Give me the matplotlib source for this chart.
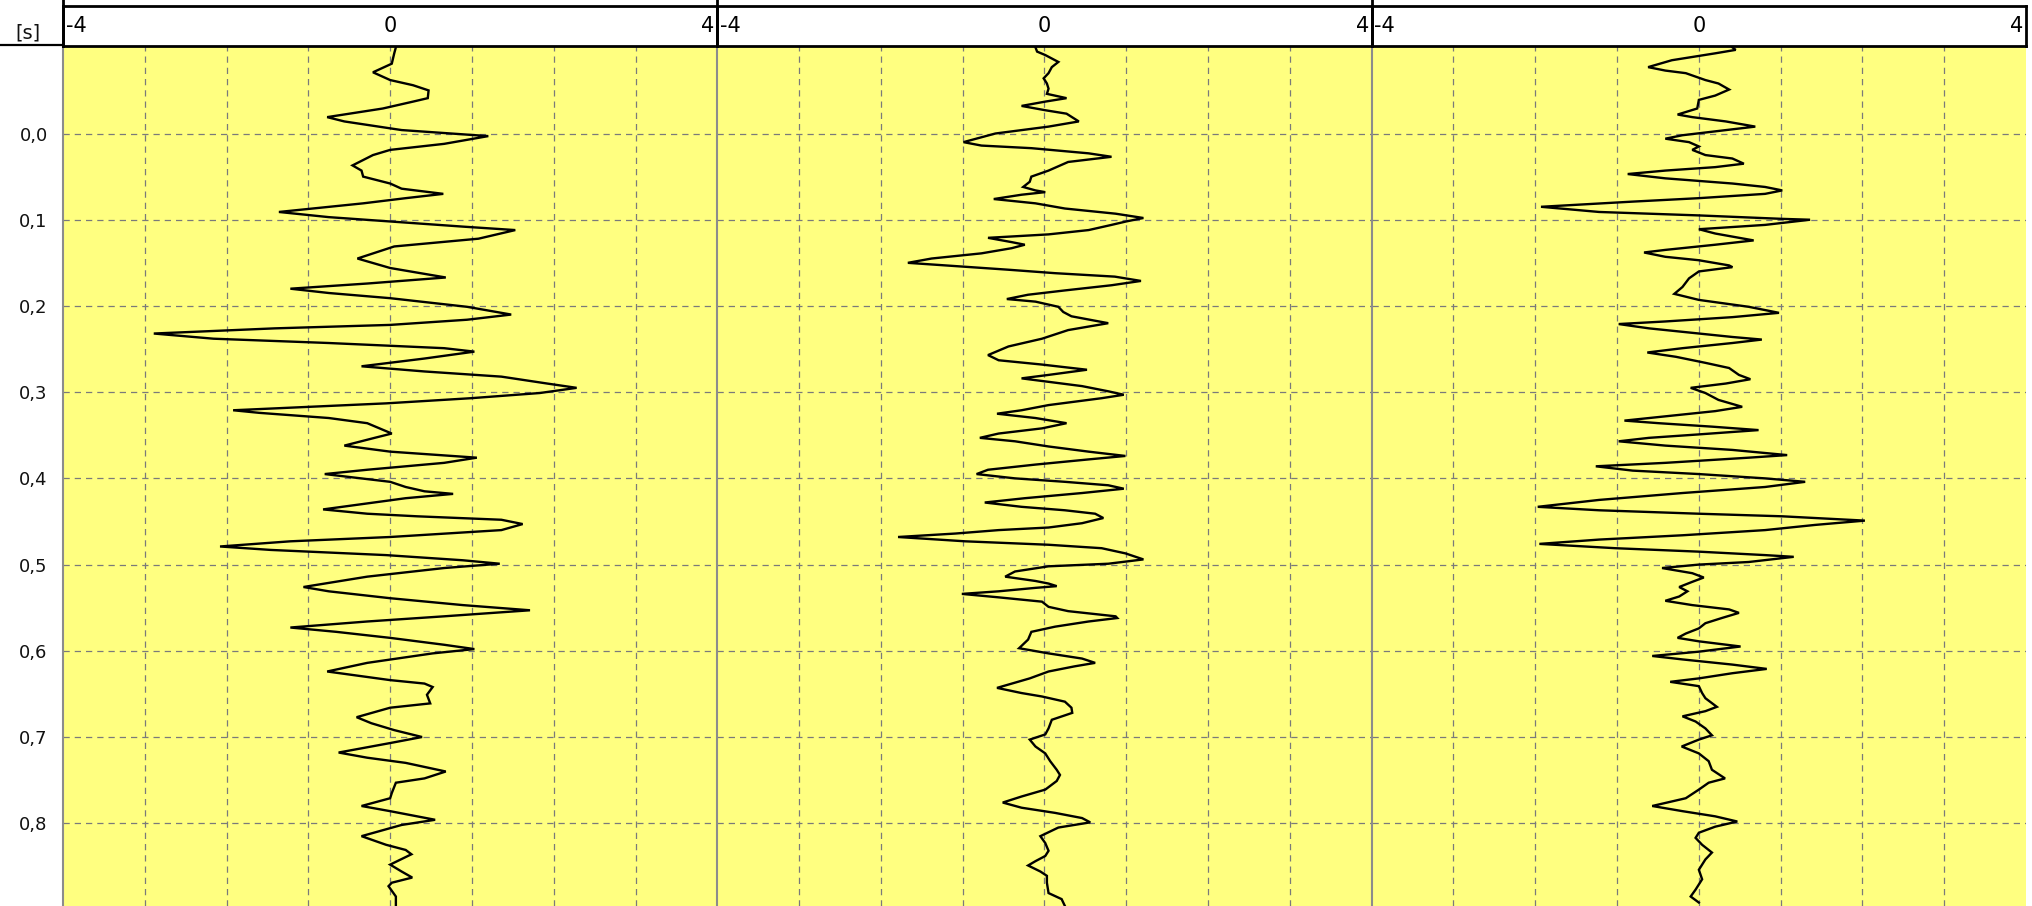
import matplotlib
matplotlib.use("Agg")
import matplotlib.pyplot as plt
from matplotlib.lines import Line2D

# ---------------------------------------------------------------- data
# time [s] and amplitude samples of the three traces
t1 = [-0.100, -0.093, -0.081, -0.071, -0.062, -0.056, -0.050, -0.041, -0.037, -0.029,
      -0.019, -0.014, -0.004, 0.003, 0.012, 0.019, 0.025, 0.037, 0.043, 0.050,
      0.058, 0.064, 0.070, 0.075, 0.081, 0.091, 0.097, 0.102, 0.108, 0.112,
      0.122, 0.131, 0.145, 0.156, 0.167, 0.174, 0.180, 0.185, 0.191, 0.201,
      0.210, 0.216, 0.222, 0.226, 0.232, 0.238, 0.243, 0.249, 0.253, 0.261,
      0.270, 0.276, 0.282, 0.290, 0.295, 0.301, 0.307, 0.313, 0.321, 0.324,
      0.330, 0.336, 0.348, 0.353, 0.362, 0.369, 0.376, 0.382, 0.390, 0.395,
      0.404, 0.410, 0.415, 0.418, 0.423, 0.429, 0.436, 0.441, 0.444, 0.448,
      0.453, 0.460, 0.468, 0.473, 0.479, 0.483, 0.489, 0.495, 0.499, 0.504,
      0.514, 0.526, 0.531, 0.539, 0.547, 0.553, 0.560, 0.566, 0.573, 0.578,
      0.585, 0.593, 0.598, 0.603, 0.614, 0.624, 0.634, 0.638, 0.642, 0.651,
      0.661, 0.666, 0.677, 0.684, 0.692, 0.700, 0.707, 0.718, 0.724, 0.730,
      0.740, 0.748, 0.753, 0.765, 0.771, 0.780, 0.786, 0.796, 0.802, 0.815,
      0.825, 0.831, 0.836, 0.848, 0.856, 0.863, 0.869, 0.873, 0.885, 0.896]
a1 = [0.07, 0.05, 0.02, -0.21, 0.00, 0.28, 0.47, 0.46, 0.28, -0.09,
      -0.77, -0.56, 0.14, 1.20, 0.66, 0.00, -0.21, -0.46, -0.35, -0.33,
      0.00, 0.14, 0.65, 0.19, -0.33, -1.36, -0.75, 0.00, 0.89, 1.53,
      1.08, 0.05, -0.40, 0.00, 0.68, -0.28, -1.22, -0.75, 0.00, 0.94,
      1.48, 0.94, 0.00, -1.41, -2.89, -2.16, -0.75, 0.66, 1.03, 0.42,
      -0.35, 0.42, 1.36, 1.92, 2.28, 1.83, 0.99, -0.05, -1.92, -1.60,
      -0.75, -0.28, 0.02, -0.19, -0.56, 0.00, 1.06, 0.66, -0.28, -0.80,
      0.00, 0.19, 0.42, 0.77, 0.19, -0.28, -0.82, -0.28, 0.33, 1.36,
      1.62, 1.36, 0.00, -1.22, -2.08, -1.46, -0.05, 0.89, 1.34, 0.66,
      -0.28, -1.06, -0.75, 0.00, 0.89, 1.71, 0.66, -0.28, -1.22, -0.66,
      0.00, 0.66, 1.03, 0.52, -0.28, -0.77, 0.00, 0.42, 0.52, 0.45,
      0.49, 0.00, -0.41, -0.23, 0.05, 0.39, 0.00, -0.63, -0.28, 0.19,
      0.68, 0.42, 0.07, 0.02, 0.00, -0.35, 0.00, 0.55, 0.14, -0.35,
      -0.05, 0.19, 0.26, 0.00, 0.14, 0.27, 0.02, -0.02, 0.07, 0.07]

t2 = [-0.100, -0.095, -0.091, -0.083, -0.077, -0.070, -0.064, -0.058, -0.052, -0.046,
      -0.041, -0.037, -0.032, -0.027, -0.023, -0.017, -0.014, -0.008, 0.000, 0.010,
      0.014, 0.017, 0.023, 0.027, 0.033, 0.043, 0.050, 0.056, 0.062, 0.066,
      0.068, 0.071, 0.076, 0.081, 0.087, 0.093, 0.098, 0.102, 0.106, 0.112,
      0.117, 0.121, 0.126, 0.129, 0.133, 0.139, 0.145, 0.150, 0.154, 0.158,
      0.162, 0.166, 0.171, 0.176, 0.182, 0.187, 0.192, 0.195, 0.201, 0.207,
      0.212, 0.220, 0.228, 0.238, 0.247, 0.257, 0.263, 0.268, 0.274, 0.280,
      0.284, 0.288, 0.293, 0.299, 0.303, 0.307, 0.315, 0.321, 0.325, 0.330,
      0.336, 0.342, 0.348, 0.353, 0.357, 0.363, 0.369, 0.374, 0.378, 0.384,
      0.390, 0.395, 0.400, 0.404, 0.408, 0.412, 0.417, 0.423, 0.428, 0.433,
      0.437, 0.441, 0.446, 0.452, 0.457, 0.460, 0.464, 0.468, 0.473, 0.477,
      0.481, 0.487, 0.494, 0.499, 0.502, 0.508, 0.514, 0.519, 0.522, 0.525,
      0.527, 0.531, 0.534, 0.538, 0.543, 0.549, 0.554, 0.560, 0.562, 0.566,
      0.572, 0.578, 0.587, 0.597, 0.603, 0.609, 0.614, 0.618, 0.624, 0.632,
      0.643, 0.649, 0.653, 0.659, 0.666, 0.672, 0.680, 0.690, 0.697, 0.703,
      0.711, 0.719, 0.728, 0.738, 0.744, 0.751, 0.761, 0.769, 0.776, 0.782,
      0.788, 0.794, 0.799, 0.805, 0.815, 0.823, 0.832, 0.838, 0.844, 0.849,
      0.856, 0.861, 0.869, 0.881, 0.888, 0.896]
a2 = [-0.11, -0.09, 0.01, 0.17, 0.09, 0.05, -0.01, 0.03, 0.05, 0.03,
      0.27, 0.01, -0.28, 0.01, 0.27, 0.37, 0.42, 0.05, -0.60, -0.99,
      -0.77, -0.16, 0.54, 0.82, 0.29, 0.05, -0.16, -0.18, -0.26, -0.11,
      0.01, -0.28, -0.62, -0.11, 0.25, 0.87, 1.21, 1.00, 0.82, 0.54,
      0.05, -0.69, -0.40, -0.24, -0.40, -0.77, -1.38, -1.67, -1.05, -0.44,
      0.13, 0.86, 1.18, 0.82, 0.25, -0.20, -0.46, -0.11, 0.17, 0.23,
      0.33, 0.78, 0.29, -0.03, -0.44, -0.69, -0.56, -0.03, 0.52, 0.05,
      -0.28, 0.05, 0.46, 0.78, 0.97, 0.70, 0.05, -0.28, -0.58, -0.11,
      0.27, -0.03, -0.56, -0.79, -0.36, 0.05, 0.54, 0.99, 0.54, -0.11,
      -0.69, -0.83, -0.36, 0.25, 0.78, 0.97, 0.46, -0.24, -0.73, -0.28,
      0.25, 0.62, 0.72, 0.46, 0.05, -0.56, -1.09, -1.79, -0.97, 0.05,
      0.70, 0.99, 1.21, 0.78, 0.05, -0.36, -0.48, -0.11, 0.05, 0.15,
      -0.11, -0.56, -1.01, -0.56, -0.03, 0.05, 0.29, 0.87, 0.89, 0.54,
      0.13, -0.16, -0.20, -0.31, 0.05, 0.46, 0.62, 0.37, 0.05, -0.18,
      -0.58, -0.28, -0.03, 0.25, 0.33, 0.34, 0.09, 0.05, 0.01, -0.18,
      -0.11, 0.01, 0.07, 0.15, 0.19, 0.15, 0.01, -0.28, -0.51, -0.28,
      0.13, 0.46, 0.56, 0.17, -0.05, 0.01, 0.05, 0.01, -0.11, -0.20,
      -0.05, 0.03, 0.03, 0.05, 0.21, 0.25]

t3 = [-0.100, -0.097, -0.093, -0.085, -0.077, -0.073, -0.070, -0.062, -0.058, -0.051,
      -0.044, -0.039, -0.029, -0.022, -0.019, -0.014, -0.008, -0.004, 0.002, 0.006,
      0.010, 0.015, 0.019, 0.025, 0.029, 0.035, 0.039, 0.043, 0.047, 0.052,
      0.058, 0.062, 0.066, 0.070, 0.075, 0.079, 0.085, 0.091, 0.095, 0.099,
      0.100, 0.106, 0.111, 0.116, 0.124, 0.129, 0.135, 0.138, 0.143, 0.147,
      0.153, 0.155, 0.160, 0.168, 0.178, 0.186, 0.193, 0.201, 0.208, 0.213,
      0.218, 0.221, 0.226, 0.232, 0.236, 0.239, 0.243, 0.249, 0.254, 0.259,
      0.266, 0.272, 0.280, 0.285, 0.290, 0.295, 0.301, 0.309, 0.317, 0.322,
      0.328, 0.333, 0.336, 0.340, 0.344, 0.349, 0.353, 0.357, 0.362, 0.367,
      0.373, 0.376, 0.382, 0.386, 0.391, 0.395, 0.400, 0.404, 0.410, 0.417,
      0.425, 0.433, 0.437, 0.441, 0.444, 0.449, 0.454, 0.460, 0.466, 0.471,
      0.476, 0.481, 0.485, 0.489, 0.491, 0.497, 0.500, 0.504, 0.510, 0.515,
      0.520, 0.526, 0.531, 0.537, 0.542, 0.547, 0.552, 0.556, 0.562, 0.568,
      0.574, 0.580, 0.585, 0.589, 0.595, 0.601, 0.606, 0.610, 0.616, 0.621,
      0.626, 0.632, 0.636, 0.641, 0.649, 0.655, 0.665, 0.670, 0.676, 0.682,
      0.690, 0.698, 0.703, 0.711, 0.719, 0.728, 0.738, 0.748, 0.753, 0.761,
      0.771, 0.780, 0.786, 0.792, 0.798, 0.804, 0.811, 0.817, 0.825, 0.834,
      0.842, 0.854, 0.865, 0.877, 0.885, 0.892]
a3 = [0.41, 0.45, 0.20, -0.33, -0.62, -0.41, -0.16, 0.08, 0.24, 0.37,
      0.20, 0.00, -0.02, -0.26, -0.08, 0.33, 0.69, 0.33, -0.20, -0.41,
      -0.12, 0.00, -0.08, 0.08, 0.41, 0.55, 0.20, -0.41, -0.87, -0.41,
      0.41, 0.81, 1.02, 0.81, 0.00, -0.81, -1.93, -1.22, 0.00, 1.02,
      1.36, 0.81, 0.00, 0.20, 0.67, 0.20, -0.41, -0.67, -0.41, 0.00,
      0.37, 0.41, 0.00, -0.12, -0.20, -0.30, 0.00, 0.61, 0.98, 0.41,
      -0.41, -0.98, -0.61, 0.00, 0.41, 0.77, 0.41, -0.20, -0.63, -0.28,
      0.08, 0.37, 0.49, 0.63, 0.33, -0.10, 0.08, 0.24, 0.53, 0.20,
      -0.41, -0.91, -0.49, 0.16, 0.73, 0.00, -0.61, -0.98, -0.41, 0.41,
      1.08, 0.61, -0.41, -1.26, -0.81, 0.00, 0.81, 1.30, 0.81, -0.20,
      -1.22, -1.97, -1.22, 0.00, 1.02, 2.03, 1.42, 0.81, -0.20, -1.22,
      -1.95, -1.02, 0.00, 0.81, 1.16, 0.61, 0.00, -0.45, -0.08, 0.06,
      -0.08, -0.24, -0.14, -0.24, -0.41, -0.08, 0.37, 0.49, 0.28, 0.08,
      0.00, -0.16, -0.26, 0.00, 0.51, 0.00, -0.57, -0.20, 0.41, 0.83,
      0.41, 0.00, -0.35, 0.00, 0.04, 0.08, 0.22, 0.08, -0.20, -0.04,
      0.08, 0.16, 0.00, -0.21, 0.00, 0.12, 0.16, 0.32, 0.12, 0.00,
      -0.16, -0.57, -0.20, 0.20, 0.47, 0.20, 0.00, -0.04, 0.04, 0.16,
      0.08, 0.00, 0.04, -0.04, -0.10, 0.00]

traces = [(t1, a1), (t2, a2), (t3, a3)]
amp_ticks = [-4, 0, 4]
amp_grid = [-3, -2, -1, 0, 1, 2, 3]
time_ticks = [0.0, 0.1, 0.2, 0.3, 0.4, 0.5, 0.6, 0.7, 0.8]
time_unit = "[s]"

# ---------------------------------------------------------------- layout (pixels)
W, H, DPI = 2033, 906, 100
PANEL_X = [63.0, 717.3, 1371.7]
PANEL_W = 654.3
HEAD_TOP, PLOT_TOP = 6.0, 46.0
TIME_TOP, TIME_BOTTOM = -0.1015, 0.896

BG = "#FFFF80"
GRID = "#7a7a7a"


def fx(px):
    return px / W


def fy(py):
    return 1.0 - py / H


fig = plt.figure(figsize=(W / DPI, H / DPI), dpi=DPI, facecolor="white")

for i, ((tt, aa), x0) in enumerate(zip(traces, PANEL_X)):
    ax = fig.add_axes([fx(x0), 0.0, PANEL_W / W, (H - PLOT_TOP) / H])
    ax.set_facecolor(BG)
    ax.set_xlim(amp_ticks[0], amp_ticks[-1])
    ax.set_ylim(TIME_BOTTOM, TIME_TOP)
    ax.set_xticks(amp_grid)
    ax.set_yticks(time_ticks)
    ax.set_axisbelow(True)
    ax.grid(True, color=GRID, lw=0.9, ls=(0, (5.0, 4.0)))
    ax.tick_params(axis="both", length=0, labelbottom=False)
    if i == 0:
        ax.set_yticklabels([f"{v:.1f}".replace(".", ",") for v in time_ticks])
        ax.tick_params(axis="y", pad=11, labelsize=13, labelcolor="#111111")
    else:
        ax.tick_params(axis="y", labelleft=False)
    for side in ("top", "right", "bottom"):
        ax.spines[side].set_visible(False)
    ax.spines["left"].set_color("#8c8c8c")
    ax.spines["left"].set_linewidth(1.5)
    ax.plot(aa, tt, color="black", lw=1.7, solid_joinstyle="miter")

    # header strip with the amplitude scale
    hx = fig.add_axes([fx(x0), fy(PLOT_TOP), PANEL_W / W, (PLOT_TOP - HEAD_TOP) / H])
    hx.set_facecolor("white")
    hx.set_xlim(amp_ticks[0], amp_ticks[-1])
    hx.set_ylim(0, 1)
    hx.set_xticks([])
    hx.set_yticks([])
    for side in ("top", "bottom", "left", "right"):
        hx.spines[side].set_color("black")
        hx.spines[side].set_linewidth(2.0)
    hfont = dict(family=["Liberation Sans Narrow", "DejaVu Sans"], fontsize=15,
                 color="black", va="center")
    hx.annotate(str(amp_ticks[0]), xy=(amp_ticks[0], 0.5), xytext=(2.0, 0),
                textcoords="offset points", ha="left", **hfont)
    hx.annotate(str(amp_ticks[1]), xy=(amp_ticks[1], 0.5), ha="center", **hfont)
    hx.annotate(str(amp_ticks[2]), xy=(amp_ticks[2], 0.5), xytext=(-2.0, 0),
                textcoords="offset points", ha="right", **hfont)

# panel dividers across the header and the rule under the unit label
for x in PANEL_X:
    fig.add_artist(Line2D([fx(x), fx(x)], [fy(0), fy(PLOT_TOP)], color="black",
                          lw=2.0, transform=fig.transFigure))
fig.add_artist(Line2D([0, fx(PANEL_X[0])], [fy(45), fy(45)], color="black",
                      lw=1.6, transform=fig.transFigure))
fig.text(fx(28), fy(33), time_unit, ha="center", va="center", fontsize=14,
         color="#111111")

fig.savefig("out.png", dpi=DPI, facecolor="white")
